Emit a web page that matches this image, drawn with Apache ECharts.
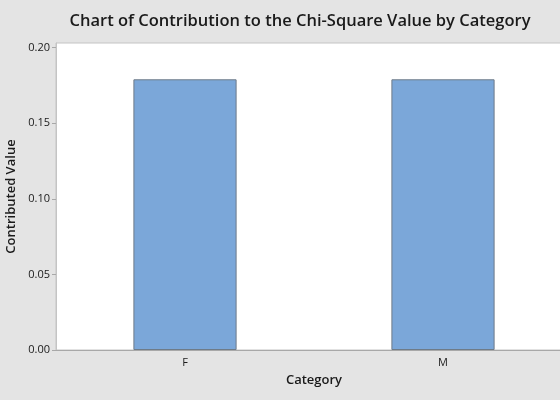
<!DOCTYPE html>
<html>
<head>
<meta charset="utf-8">
<script src="https://cdn.jsdelivr.net/npm/echarts@6/dist/echarts.min.js"></script>
<style>
  html, body { margin: 0; padding: 0; background: #e4e4e4; }
  #chart { width: 560px; height: 400px; }
</style>
</head>
<body>
<div id="chart"></div>
<script>
// data
const categories = ["F", "M"];
const contributions = [0.179, 0.179];
const yTicks = [0, 0.05, 0.1, 0.15, 0.2];

const FONT = "'Open Sans', 'Noto Sans', sans-serif";
const INK = "#1a1a1a";

const chart = echarts.init(document.getElementById("chart"));

chart.setOption({
  backgroundColor: "#e4e4e4",
  animation: false,
  textStyle: { fontFamily: FONT },
  title: {
    text: "Chart of Contribution to the Chi-Square Value by Category",
    left: 295, top: 8, textAlign: "center",
    textStyle: { fontFamily: FONT, fontSize: 16.5, fontWeight: 600, color: INK },
  },
  grid: {
    left: 56, right: -12, top: 43, bottom: 50,
    containLabel: false, outerBoundsMode: "none",
    backgroundColor: "#fff", show: true, borderColor: "#c4c4c4", borderWidth: 1,
  },
  xAxis: {
    type: "category",
    data: categories,
    name: "Category", nameLocation: "middle", nameGap: 24,
    nameTextStyle: { fontFamily: FONT, fontSize: 13, fontWeight: 600, color: INK },
    axisLine: { lineStyle: { color: "#a8a8a8", width: 1 } },
    axisTick: { alignWithLabel: true, length: 4, lineStyle: { color: "#a8a8a8" } },
    axisLabel: { fontSize: 11, color: INK, margin: 7 },
  },
  yAxis: {
    type: "value", min: 0, max: 0.203,
    name: "Contributed Value", nameLocation: "middle", nameGap: 36,
    nameTextStyle: { fontFamily: FONT, fontSize: 13, fontWeight: 600, color: INK },
    axisLine: { show: true, lineStyle: { color: "#c4c4c4" } },
    axisTick: { show: true, length: 4, lineStyle: { color: "#a8a8a8" }, customValues: yTicks },
    axisLabel: { fontSize: 11, color: INK, margin: 6, customValues: yTicks, formatter: (v) => v.toFixed(2) },
    splitLine: { show: false },
  },
  series: [{
    type: "bar",
    data: contributions,
    barWidth: "40%",
    itemStyle: { color: "#7ba7d9", borderColor: "#6e7b88", borderWidth: 1 },
  }],
});
</script>
</body>
</html>
